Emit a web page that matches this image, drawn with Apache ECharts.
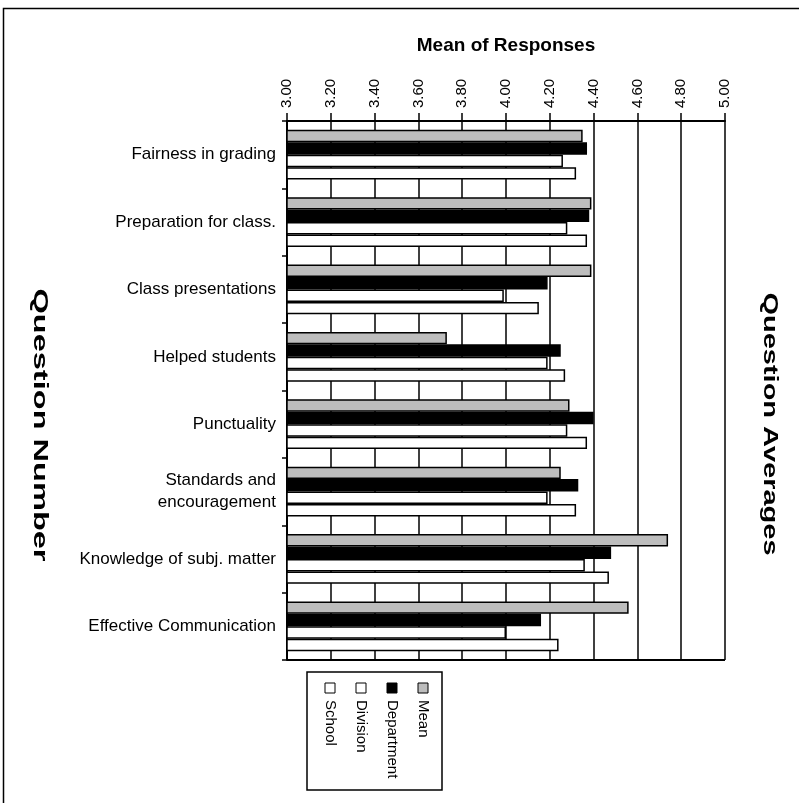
<!DOCTYPE html>
<html>
<head>
<meta charset="utf-8">
<script src="https://cdn.jsdelivr.net/npm/echarts@6/dist/echarts.min.js"></script>
<style>
html,body{margin:0;padding:0;background:#fff}
#main{width:799px;height:803px}
</style>
</head>
<body>
<div id="main"></div>
<script>
// question labels, top to bottom
var categories = ['Fairness in grading', 'Preparation for class.', 'Class presentations', 'Helped students',
    'Punctuality', 'Standards and\nencouragement', 'Knowledge of subj. matter', 'Effective Communication'];
var seriesNames = ['Mean', 'Department', 'Division', 'School'];
var meanVals = [4.35, 4.39, 4.39, 3.73, 4.29, 4.25, 4.74, 4.56];
var deptVals = [4.37, 4.38, 4.19, 4.25, 4.40, 4.33, 4.48, 4.16];
var divisionVals = [4.26, 4.28, 3.99, 4.19, 4.28, 4.19, 4.36, 4.00];
var schoolVals = [4.32, 4.37, 4.15, 4.27, 4.37, 4.32, 4.47, 4.24];
var xMin = 3, xMax = 5, xStep = 0.2;

var fillColors = ['#bdbdbd', '#000000', '#ffffff', '#ffffff'];
var allVals = [meanVals, deptVals, divisionVals, schoolVals];

var myChart = echarts.init(document.getElementById('main'));

var series = [];
for (var i = 0; i < seriesNames.length; i++) {
    series.push({
        name: seriesNames[i],
        type: 'bar',
        barGap: '0%',
        barCategoryGap: '26%',
        itemStyle: {
            color: fillColors[i],
            borderColor: '#000',
            borderWidth: 1.5
        },
        data: allVals[i]
    });
}

// legend drawn by hand: rotated entries like the scan
var legendItems = [];
for (var k = 0; k < seriesNames.length; k++) {
    var cx = 423 - k * 31;
    legendItems.push({
        type: 'rect',
        shape: {x: cx - 5, y: 683, width: 10, height: 10},
        style: {fill: fillColors[k], stroke: '#000', lineWidth: 1}
    });
    legendItems.push({
        type: 'text',
        x: cx, y: 700,
        rotation: -Math.PI / 2,
        style: {
            text: seriesNames[k],
            font: '15px "Liberation Sans", Arial, sans-serif',
            fill: '#000',
            textAlign: 'left',
            textVerticalAlign: 'middle'
        }
    });
}

var option = {
    backgroundColor: '#fff',
    animation: false,
    grid: {
        left: 287,
        right: 74,
        top: 121,
        bottom: 143
    },
    xAxis: {
        type: 'value',
        position: 'top',
        min: xMin,
        max: xMax,
        interval: xStep,
        name: 'Mean of Responses',
        nameLocation: 'middle',
        nameGap: 66,
        nameTextStyle: {
            fontFamily: 'Liberation Sans',
            fontSize: 19,
            fontWeight: 'bold',
            color: '#000'
        },
        axisLine: {show: true, lineStyle: {color: '#000', width: 2}},
        axisTick: {show: true, inside: false, length: 8, lineStyle: {color: '#000', width: 1.5}},
        axisLabel: {
            rotate: -90,
            margin: 13,
            fontFamily: 'Liberation Sans',
            fontSize: 15,
            color: '#000',
            formatter: function (v) { return v.toFixed(2); }
        },
        splitLine: {show: true, lineStyle: {color: '#000', width: 1.5}}
    },
    yAxis: {
        type: 'category',
        inverse: true,
        data: categories,
        axisLine: {show: true, lineStyle: {color: '#000', width: 2}},
        axisTick: {show: true, length: 5, lineStyle: {color: '#000', width: 1.5}},
        axisLabel: {
            margin: 11,
            fontFamily: 'Liberation Sans',
            fontSize: 17,
            lineHeight: 22,
            color: '#000'
        }
    },
    graphic: [
        {
            type: 'rect',
            shape: {x: 3.5, y: 8.5, width: 820, height: 820},
            style: {fill: null, stroke: '#000', lineWidth: 1.5}
        },
        {
            type: 'line',
            shape: {x1: 287, y1: 660, x2: 725, y2: 660},
            style: {stroke: '#000', lineWidth: 2}
        },
        {
            type: 'text',
            x: 40, y: 425,
            rotation: -Math.PI / 2,
            scaleX: 1.55,
            style: {
                text: 'Question Number',
                font: 'bold 21px "Liberation Sans", Arial, sans-serif',
                fill: '#000',
                textAlign: 'center',
                textVerticalAlign: 'middle'
            }
        },
        {
            type: 'text',
            x: 770, y: 424,
            rotation: -Math.PI / 2,
            scaleX: 1.38,
            style: {
                text: 'Question Averages',
                font: 'bold 21px "Liberation Sans", Arial, sans-serif',
                fill: '#000',
                textAlign: 'center',
                textVerticalAlign: 'middle'
            }
        },
        {
            type: 'rect',
            shape: {x: 307, y: 672, width: 135, height: 118},
            style: {fill: '#fff', stroke: '#000', lineWidth: 1.5}
        },
        {
            type: 'group',
            children: legendItems
        }
    ],
    series: series
};

myChart.setOption(option);
window.addEventListener("resize", function () {
    myChart.resize();
});
</script>
</body>
</html>
